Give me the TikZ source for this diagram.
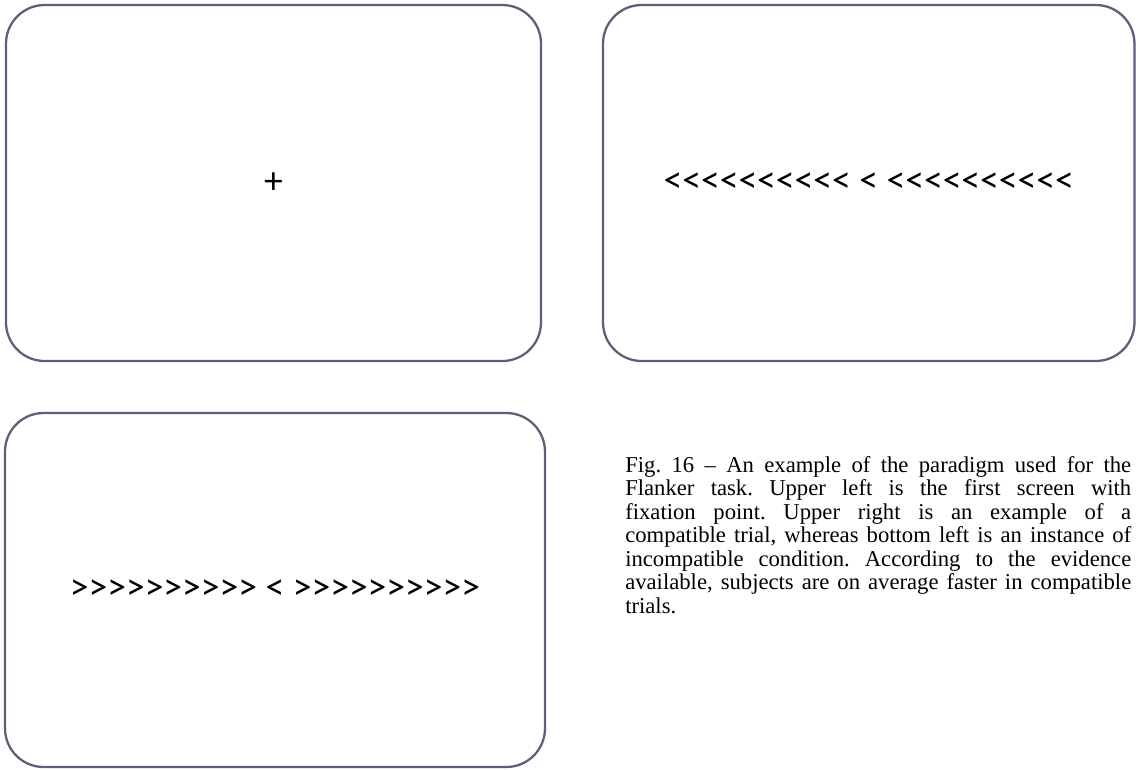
\documentclass[tikz,border=0pt]{standalone}
\usepackage{fontspec}
\setmainfont{Liberation Serif}
\newfontfamily\stimfont{Carlito}
\usepackage{xcolor}
\usetikzlibrary{positioning}
\definecolor{framegray}{HTML}{5A6176}
\tikzset{
  screen/.style={draw=framegray,line width=1.7pt,rounded corners=29pt,inner sep=0pt},
  stimulus/.style={font=\stimfont\fontsize{28.2}{30}\selectfont,inner sep=0pt}
}

\begin{document}
\begin{tikzpicture}[x=0.75pt,y=-0.75pt]
  \useasboundingbox (0,0) rectangle (1136,769);
  % three screens of the task
  \node[screen,minimum width=401.25pt,minimum height=267pt] (fixscreen) at (273.5,183) {};
  \node[screen,minimum width=398.6pt,minimum height=267pt] (compscreen) at (868.75,183) {};
  \node[screen,minimum width=405pt,minimum height=265.5pt] (incscreen) at (275,590) {};
  % stimuli
  \node[stimulus] (fixpoint) at (fixscreen.center) {+};
  \node[stimulus] (compstim) at (compscreen.center) {<<<<<<<<<< < <<<<<<<<<<};
  \node[stimulus] (incstim) at (incscreen.center) {>>>>>>>>>> < >>>>>>>>>>};
  % caption, broken as in the source
  \node[anchor=north west,inner sep=0pt,text width=379.5pt,align=justify,
        font=\fontsize{17}{17.6}\selectfont]
    (caption) at (625,456) {\frenchspacing\hyphenpenalty=10000 \exhyphenpenalty=10000 Fig. 16 -- An example of the paradigm used for the\linebreak
    Flanker task. Upper left is the first screen with\linebreak
    fixation point. Upper right is an example of a\linebreak
    compatible trial, whereas bottom left is an instance of\linebreak
    incompatible condition. According to the evidence\linebreak
    available, subjects are on average faster in compatible\linebreak
    trials.};
\end{tikzpicture}
\end{document}
